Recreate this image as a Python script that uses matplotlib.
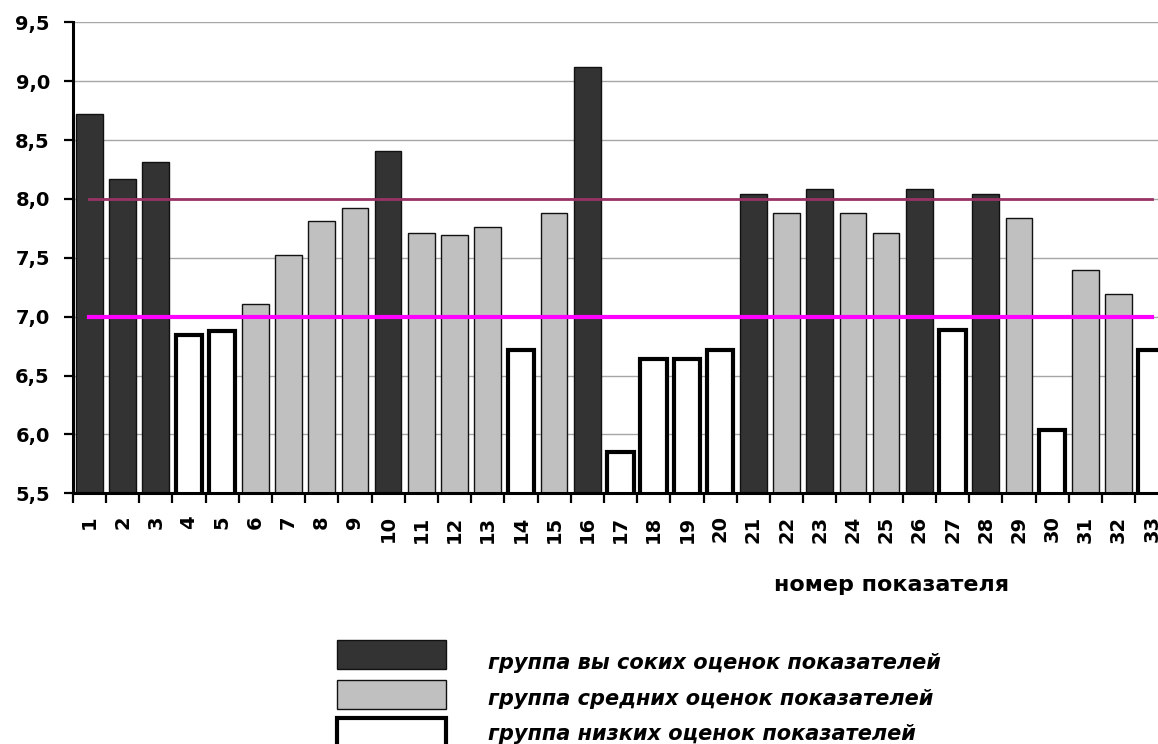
import matplotlib
matplotlib.use("Agg")
import matplotlib.pyplot as plt
import matplotlib.patches as patches
from matplotlib.ticker import MultipleLocator, FormatStrFormatter
import numpy as np

# номер показателя -> средняя оценка и группа
indicators = list(range(1, 34))
scores = [8.72, 8.17, 8.31, 6.84, 6.88, 7.11, 7.52, 7.81, 7.92, 8.41,
          7.71, 7.69, 7.76, 6.72, 7.88, 9.12, 5.85, 6.64, 6.64, 6.72,
          8.04, 7.88, 8.08, 7.88, 7.71, 8.08, 6.89, 8.04, 7.84, 6.04,
          7.40, 7.19, 6.72]
groups = ["high", "high", "high", "low", "low", "mid", "mid", "mid", "mid", "high",
          "mid", "mid", "mid", "low", "mid", "high", "low", "low", "low", "low",
          "high", "mid", "high", "mid", "mid", "high", "low", "high", "mid", "low",
          "mid", "mid", "low"]
upper_level = 8.0
lower_level = 7.0

group_labels = {
    "high": "группа вы соких оценок показателей",
    "mid": "группа средних оценок показателей",
    "low": "группа низких оценок показателей",
}
STYLE = {
    "high": dict(facecolor="#333333", edgecolor="#111111", linewidth=1.0),
    "mid": dict(facecolor="#c0c0c0", edgecolor="#111111", linewidth=1.0),
    "low": dict(facecolor="white", edgecolor="black", linewidth=3.0),
}

FONT = "DejaVu Sans"
plt.rcParams["font.family"] = FONT

fig = plt.figure(figsize=(11.58, 7.44), dpi=100)
ax = fig.add_axes([0.0628, 0.337, 0.9461, 0.6331])

x = np.array(indicators)
for xi, val, g in zip(x, scores, groups):
    ax.bar(xi, val, width=0.8, zorder=2, **STYLE[g])

ax.plot(x, np.full(len(x), upper_level), color="#993366", lw=2.0, zorder=3)
ax.plot(x, np.full(len(x), lower_level), color="#ff00ff", lw=3.0, zorder=3)

ax.set_xlim(0.5, len(x) + 0.5)
ax.set_ylim(5.5, 9.5)

# сетка и оси
ax.yaxis.set_major_locator(MultipleLocator(0.5))
ax.yaxis.set_major_formatter(FormatStrFormatter("%.1f"))
ax.set_yticklabels([f"{v:.1f}".replace(".", ",") for v in ax.get_yticks()])
ax.grid(axis="y", color="#a6a6a6", lw=1.0, zorder=0)
ax.set_axisbelow(True)

ax.set_xticks(x)
ax.set_xticklabels([str(i) for i in indicators], rotation=90, va="top",
                   ha="center", fontsize=14, fontweight="bold")
ax.set_xticks(np.arange(0.5, len(x) + 1.0, 1.0), minor=True)
ax.tick_params(axis="x", which="major", length=0, pad=16)
ax.tick_params(axis="x", which="minor", length=7, width=1.6, direction="out")
ax.tick_params(axis="y", length=6.5, width=1.6, direction="out", pad=10,
               labelsize=14)
for lab in ax.get_yticklabels():
    lab.set_fontweight("bold")

for side in ("top", "right"):
    ax.spines[side].set_visible(False)
for side in ("left", "bottom"):
    ax.spines[side].set_linewidth(2.2)
    ax.spines[side].set_zorder(4)

fig.text(892 / 1158, 1 - 585 / 744, "номер показателя", ha="center",
         va="center", fontsize=16, fontweight="bold")

# легенда вручную: прямоугольники и подписи
legend_rows = [("high", 640, 669, 663), ("mid", 680, 709, 699), ("low", 718, 752, 734)]
for g, top, bottom, ty in legend_rows:
    rect = patches.Rectangle((337 / 1158, 1 - bottom / 744), 109 / 1158,
                             (bottom - top) / 744, transform=fig.transFigure,
                             clip_on=False, **STYLE[g])
    fig.add_artist(rect)
    fig.text(488 / 1158, 1 - ty / 744, group_labels[g], ha="left", va="center",
             fontsize=15, fontweight="bold", fontstyle="italic")

fig.savefig("out.png", dpi=100)
plt.close(fig)
